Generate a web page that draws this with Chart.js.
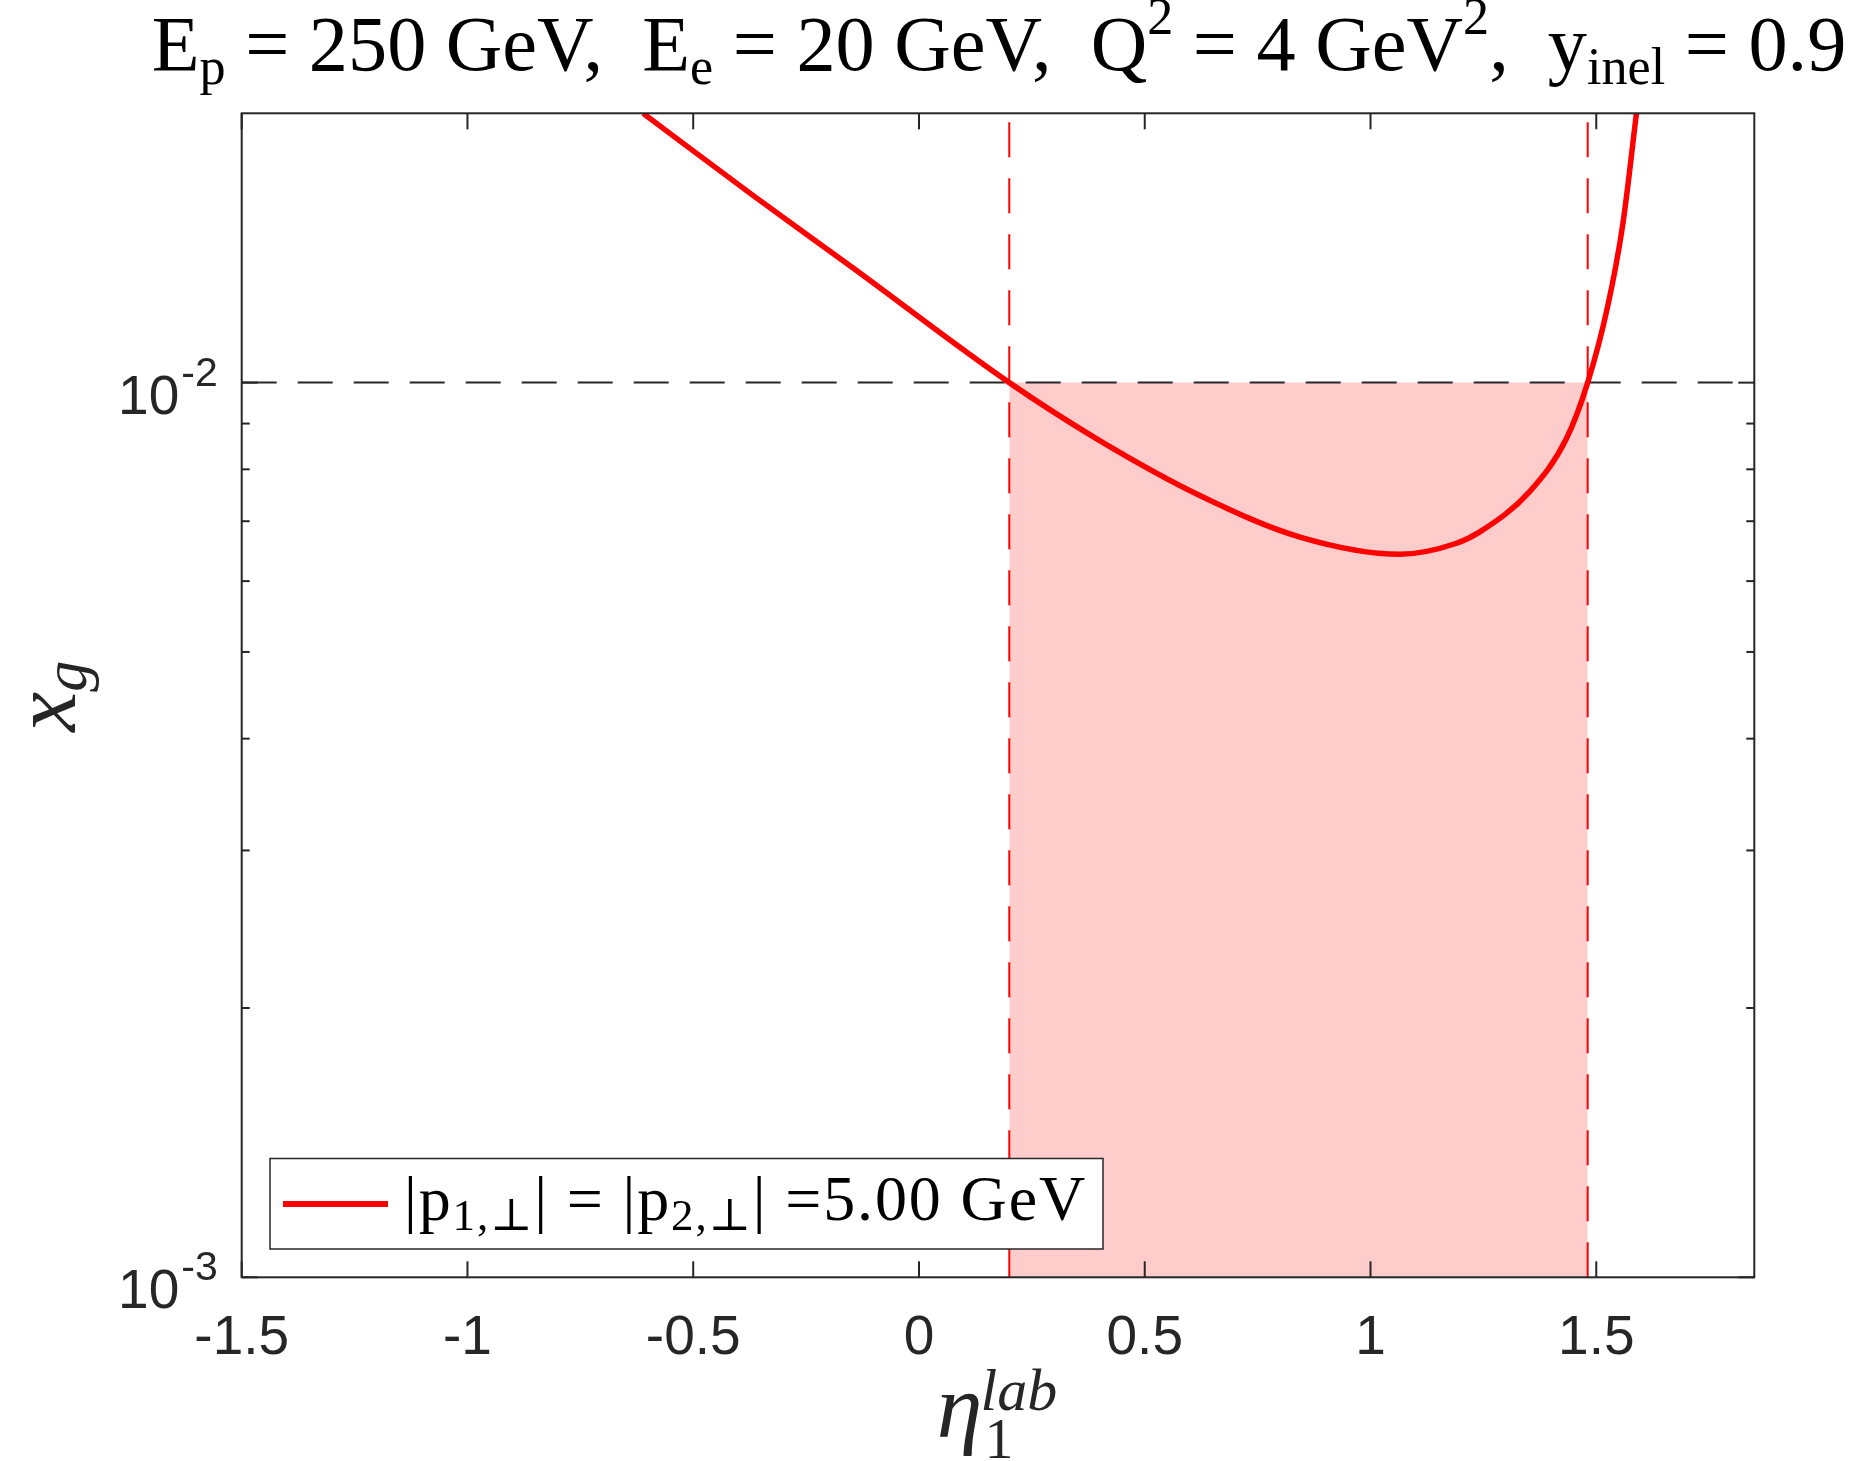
<!DOCTYPE html>
<html>
<head>
<meta charset="utf-8">
<title>x_g vs eta_1^lab</title>
<script src="https://cdn.jsdelivr.net/npm/chart.js@4.4.1/dist/chart.umd.min.js"></script>
<style>
  html, body { margin: 0; padding: 0; background: #ffffff; }
  canvas { display: block; }
</style>
</head>
<body>
<canvas id="grafico" width="1856" height="1461"></canvas>
<script>
// valores
const xRange = [-1.5, 1.85];
const yRange = [1e-3, 2e-2];
const xTickValues = [-1.5, -1, -0.5, 0, 0.5, 1, 1.5];
const yMajorValues = [1e-3, 1e-2];
const yMajorLabels = [['10', '-3'], ['10', '-2']];
const yMinorValues = [2e-3, 3e-3, 4e-3, 5e-3, 6e-3, 7e-3, 8e-3, 9e-3];

// curva |p1| = |p2| = 5 GeV
const etaValues = [-0.611, -0.367, -0.146, 0.2, 0.401, 0.622, 0.844, 1.065, 1.189, 1.242, 1.353, 1.434, 1.481, 1.525, 1.559, 1.589];
const xgValues  = [0.0200, 0.01618, 0.01343, 0.0100, 0.00861, 0.00748, 0.00672, 0.00643, 0.00661, 0.00681, 0.00756, 0.00866, 0.0100, 0.01215, 0.01506, 0.0200];

// corte x_g < 0.01 e intervalo de eta
const xgCut = 0.01;
const etaCut = [0.2, 1.481];

const axisColor = '#262626';
const red = '#ff0000';
const serif = "'Liberation Serif', 'DejaVu Serif', serif";
const sans = "'Liberation Sans', Arial, sans-serif";

function fontOf(r, k) {
    return (r.it ? 'italic ' : '') + (r.s * k) + 'px ' + (r.f || serif);
}

function runWidth(ctx, r, k, sp) {
    ctx.font = fontOf(r, k);
    if (!sp) return ctx.measureText(r.t).width;
    let w = 0;
    for (const ch of r.t) w += ctx.measureText(ch).width + sp;
    return w;
}

function measureRuns(ctx, runs, k, sp) {
    return runs.reduce((s, r) => s + runWidth(ctx, r, k, sp), 0);
}

// desenha uma sequencia de textos (com sub/sobrescritos) numa linha
// mode 'scale': ajusta o tamanho; mode 'spread': ajusta o espacamento
function drawRuns(ctx, runs, x, y, align, width, mode) {
    let k = 1, sp = 0;
    if (width && mode === 'spread') {
        const n = runs.reduce((s, r) => s + r.t.length, 0);
        let base = 0;
        runs.forEach(r => { ctx.font = fontOf(r, 1); for (const ch of r.t) base += ctx.measureText(ch).width; });
        sp = (width - base) / n;
    } else if (width) {
        k = width / measureRuns(ctx, runs, 1, 0);
    }
    const total = measureRuns(ctx, runs, k, sp);
    let cx = align === 'center' ? x - total / 2 : x;
    ctx.textAlign = 'left';
    ctx.textBaseline = 'alphabetic';
    runs.forEach(r => {
        ctx.font = fontOf(r, k);
        const yy = y + (r.dy || 0) * k;
        if (!sp) {
            ctx.fillText(r.t, cx, yy);
            cx += ctx.measureText(r.t).width;
        } else {
            for (const ch of r.t) {
                ctx.fillText(ch, cx, yy);
                cx += ctx.measureText(ch).width + sp;
            }
        }
    });
    return total;
}

function line(ctx, x1, y1, x2, y2) {
    ctx.beginPath();
    ctx.moveTo(x1, y1);
    ctx.lineTo(x2, y2);
    ctx.stroke();
}

const decorPlugin = {
    id: 'decor',
    afterDraw(chart) {
        const ctx = chart.ctx;
        const a = chart.chartArea;
        const xs = chart.scales.x;
        const ys = chart.scales.y;
        const cx = (a.left + a.right) / 2;
        const cy = (a.top + a.bottom) / 2;

        ctx.save();
        ctx.strokeStyle = axisColor;
        ctx.lineWidth = 2;
        ctx.setLineDash([]);

        // ticks para dentro, nos quatro lados
        xTickValues.forEach(v => {
            const px = xs.getPixelForValue(v);
            line(ctx, px, a.bottom, px, a.bottom - 16);
            line(ctx, px, a.top, px, a.top + 16);
        });
        yMajorValues.forEach(v => {
            const py = ys.getPixelForValue(v);
            line(ctx, a.left, py, a.left + 16, py);
            line(ctx, a.right, py, a.right - 16, py);
        });
        yMinorValues.forEach(v => {
            const py = ys.getPixelForValue(v);
            line(ctx, a.left, py, a.left + 8, py);
            line(ctx, a.right, py, a.right - 8, py);
        });
        ctx.strokeRect(a.left, a.top, a.right - a.left, a.bottom - a.top);

        // rotulos do eixo y: 10^-3, 10^-2
        ctx.fillStyle = axisColor;
        yMajorValues.forEach((v, i) => {
            const py = ys.getPixelForValue(v);
            const lab = yMajorLabels[i];
            ctx.font = '55px ' + sans;
            const w1 = ctx.measureText(lab[0]).width;
            ctx.font = '41px ' + sans;
            const w2 = ctx.measureText(lab[1]).width;
            const x0 = a.left - 24 - w2 - w1 - 2;
            ctx.textAlign = 'left';
            ctx.textBaseline = 'alphabetic';
            ctx.font = '55px ' + sans;
            ctx.fillText(lab[0], x0, py + 31);
            ctx.font = '41px ' + sans;
            ctx.fillText(lab[1], x0 + w1 + 2, py + 3);
        });

        // titulo
        ctx.fillStyle = '#000000';
        const T = 69, S = 46;
        drawRuns(ctx, [
            { t: 'E', s: T }, { t: 'p', s: S, dy: 12 },
            { t: ' = 250 GeV,  E', s: T }, { t: 'e', s: S, dy: 12 },
            { t: ' = 20 GeV,  Q', s: T }, { t: '2', s: S, dy: -32 },
            { t: ' = 4 GeV', s: T }, { t: '2', s: S, dy: -32 },
            { t: ',  y', s: T }, { t: 'inel', s: S, dy: 12 },
            { t: ' = 0.9', s: T }
        ], cx + 1, 70, 'center', 1695);

        // titulo do eixo x: eta_1^lab
        ctx.fillStyle = axisColor;
        ctx.font = 'italic 92px ' + serif;
        const wEta = ctx.measureText('\u03B7').width;
        ctx.font = 'italic 60px ' + serif;
        const wLab = ctx.measureText('lab').width;
        const ex = cx - (wEta + wLab) / 2;
        ctx.textAlign = 'left';
        ctx.textBaseline = 'alphabetic';
        ctx.font = 'italic 92px ' + serif;
        ctx.fillText('\u03B7', ex, 1437);
        ctx.font = 'italic 60px ' + serif;
        ctx.fillText('lab', ex + wEta - 2, 1410);
        ctx.font = '58px ' + serif;
        ctx.fillText('1', ex + wEta + 2, 1458);

        // titulo do eixo y: x_g
        ctx.save();
        ctx.translate(75, cy + 1);
        ctx.rotate(-Math.PI / 2);
        drawRuns(ctx, [
            { t: 'x', s: 90, it: true },
            { t: 'g', s: 62, it: true, dy: 11 }
        ], 0, 0, 'center');
        ctx.restore();

        // legenda
        ctx.fillStyle = '#ffffff';
        ctx.fillRect(270, 1158.5, 833, 90.5);
        ctx.strokeStyle = axisColor;
        ctx.lineWidth = 1.5;
        ctx.strokeRect(270, 1158.5, 833, 90.5);
        ctx.strokeStyle = red;
        ctx.lineWidth = 6;
        line(ctx, 283, 1204, 388, 1204);
        ctx.fillStyle = '#000000';
        const L = 64, LS = 45;
        drawRuns(ctx, [
            { t: '|p', s: L }, { t: '1,\u22A5', s: LS, dy: 10 },
            { t: '| = |p', s: L }, { t: '2,\u22A5', s: LS, dy: 10 },
            { t: '| =5.00 GeV', s: L }
        ], 404, 1220, 'left', 683, 'spread');

        ctx.restore();
    }
};

const curva = etaValues.map((e, i) => ({ x: e, y: xgValues[i] }));

new Chart(document.getElementById('grafico').getContext('2d'), {
    type: 'line',
    data: {
        datasets: [
            {
                label: '|p1| = |p2| = 5.00 GeV',
                data: curva,
                borderColor: red,
                borderWidth: 5.5,
                pointRadius: 0,
                fill: false,
                cubicInterpolationMode: 'monotone',
                order: 0
            },
            {
                label: 'corte xg',
                data: [{ x: xRange[0], y: xgCut }, { x: xRange[1], y: xgCut }],
                borderColor: axisColor,
                borderWidth: 2,
                borderDash: [35, 21],
                pointRadius: 0,
                fill: false,
                order: 1
            },
            {
                label: 'eta min',
                data: [{ x: etaCut[0], y: yRange[0] }, { x: etaCut[0], y: yRange[1] }],
                borderColor: red,
                borderWidth: 2,
                borderDash: [35, 21],
                pointRadius: 0,
                fill: false,
                order: 1
            },
            {
                label: 'eta max',
                data: [{ x: etaCut[1], y: yRange[0] }, { x: etaCut[1], y: yRange[1] }],
                borderColor: red,
                borderWidth: 2,
                borderDash: [35, 21],
                pointRadius: 0,
                fill: false,
                order: 1
            },
            {
                label: 'regiao',
                data: [{ x: etaCut[0], y: xgCut }, { x: etaCut[1], y: xgCut }],
                borderWidth: 0,
                borderColor: 'rgba(0,0,0,0)',
                backgroundColor: 'rgba(255,0,0,0.2)',
                pointRadius: 0,
                fill: 'start',
                order: 2
            }
        ]
    },
    options: {
        responsive: false,
        animation: false,
        devicePixelRatio: 1,
        layout: { padding: { left: 0, right: 101.7, top: 113.3, bottom: 0 } },
        plugins: {
            legend: { display: false },
            tooltip: { enabled: false },
            title: { display: false }
        },
        scales: {
            x: {
                type: 'linear',
                min: xRange[0],
                max: xRange[1],
                grid: { display: false },
                border: { display: false },
                afterBuildTicks: s => { s.ticks = xTickValues.map(v => ({ value: v })); },
                afterFit: s => { s.height = 183.7; },
                ticks: {
                    color: axisColor,
                    font: { family: sans, size: 55 },
                    padding: 21,
                    maxRotation: 0,
                    autoSkip: false,
                    callback: v => String(v)
                }
            },
            y: {
                type: 'logarithmic',
                min: yRange[0],
                max: yRange[1],
                grid: { display: false },
                border: { display: false },
                ticks: { display: false },
                afterFit: s => { s.width = 241.7; }
            }
        }
    },
    plugins: [decorPlugin]
});
</script>
</body>
</html>
